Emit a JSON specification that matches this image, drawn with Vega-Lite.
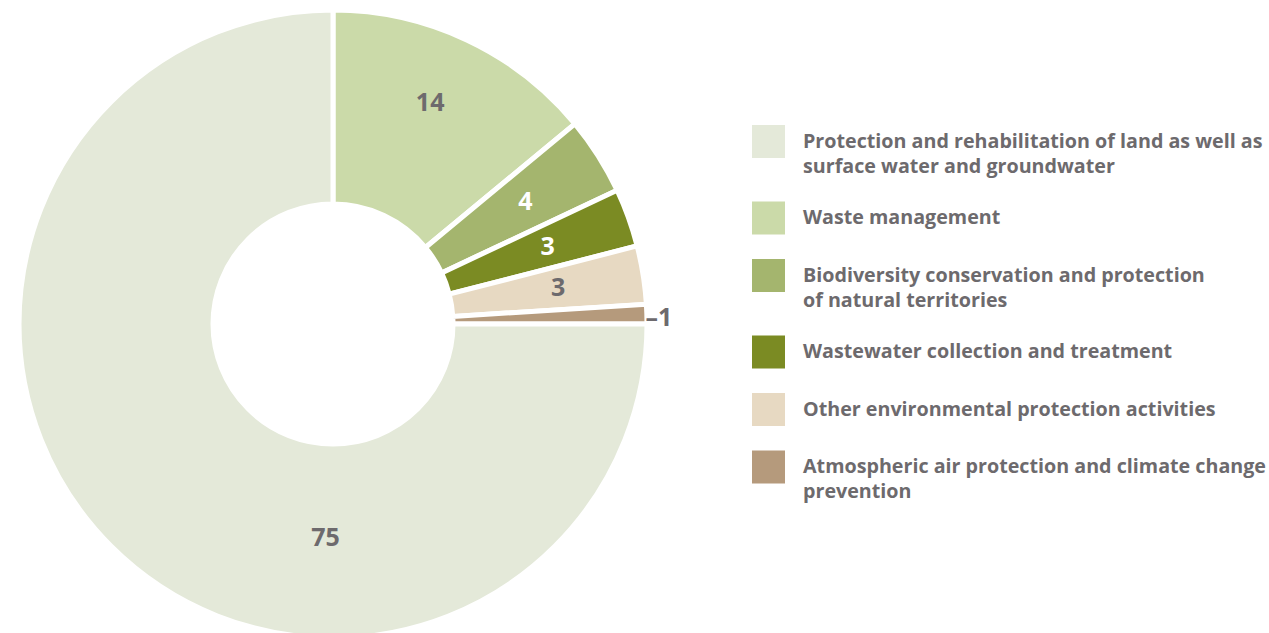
{
  "$schema": "https://vega.github.io/schema/vega-lite/v6.json",
  "width": 624,
  "height": 620,
  "padding": {"left": 9, "top": 0, "right": 0, "bottom": 0},
  "background": "white",
  "config": {"view": {"stroke": null}, "font": "Open Sans", "style": {"guide-label": {"lineHeight": 25}}},
  "data": {
    "values": [
      {"category": "Waste management", "value": 14, "rank": 1, "label": "14"},
      {"category": "Biodiversity conservation and protection of natural territories", "value": 4, "rank": 2, "label": "4"},
      {"category": "Wastewater collection and treatment", "value": 3, "rank": 3, "label": "3"},
      {"category": "Other environmental protection activities", "value": 3, "rank": 4, "label": "3"},
      {"category": "Atmospheric air protection and climate change prevention", "value": 1, "rank": 5, "label": "–1"},
      {"category": "Protection and rehabilitation of land as well as surface water and groundwater", "value": 75, "rank": 6, "label": "75"}
    ]
  },
  "transform": [
    {"stack": "value", "groupby": [], "sort": [{"field": "rank", "order": "ascending"}], "as": ["v0", "v1"]},
    {"calculate": "(datum.v0 + datum.v1) / 2", "as": "mid"}
  ],
  "layer": [
    {
      "mark": {"type": "arc", "outerRadius": 314, "innerRadius": 120, "stroke": "white", "strokeWidth": 5},
      "encoding": {
        "theta": {"field": "v0", "type": "quantitative", "scale": {"domain": [0, 100]}},
        "theta2": {"field": "v1"},
        "color": {
          "field": "category",
          "type": "nominal",
          "scale": {
            "domain": [
              "Protection and rehabilitation of land as well as surface water and groundwater",
              "Waste management",
              "Biodiversity conservation and protection of natural territories",
              "Wastewater collection and treatment",
              "Other environmental protection activities",
              "Atmospheric air protection and climate change prevention"
            ],
            "range": ["#e4e9d9", "#cbdaa9", "#a4b56e", "#7b8b23", "#e7d9c2", "#b59a7c"]
          },
          "legend": {
            "title": null,
            "orient": "none",
            "legendX": 731,
            "legendY": 111,
            "direction": "vertical",
            "columns": 1,
            "symbolType": "square",
            "symbolSize": 1089,
            "symbolStrokeWidth": 0,
            "symbolOpacity": 1,
            "labelFont": "Open Sans",
            "labelFontWeight": "bold",
            "labelFontSize": 19.7,
            "labelColor": "#6d6a6d",
            "labelLimit": 600,
            "labelOffset": 18,
            "rowPadding": 24.5,
            "labelExpr": "datum.label == 'Protection and rehabilitation of land as well as surface water and groundwater' ? ['Protection and rehabilitation of land as well as', 'surface water and groundwater'] : datum.label == 'Biodiversity conservation and protection of natural territories' ? ['Biodiversity conservation and protection', 'of natural territories'] : datum.label == 'Atmospheric air protection and climate change prevention' ? ['Atmospheric air protection and climate change', 'prevention'] : datum.label"
          }
        }
      }
    },
    {
      "transform": [{"filter": "datum.rank == 1"}],
      "mark": {"type": "text", "radius": 241, "thetaOffset": -0.025, "font": "Open Sans", "fontWeight": "bold", "fontSize": 25, "color": "#6d6a6d"},
      "encoding": {
        "theta": {"field": "mid", "type": "quantitative", "scale": {"domain": [0, 100]}},
        "text": {"field": "label"}
      }
    },
    {
      "transform": [{"filter": "datum.rank >= 2 && datum.rank <= 4"}],
      "mark": {"type": "text", "radius": 228, "font": "Open Sans", "fontWeight": "bold", "fontSize": 25},
      "encoding": {
        "theta": {"field": "mid", "type": "quantitative", "scale": {"domain": [0, 100]}},
        "text": {"field": "label"},
        "color": {"condition": {"test": "datum.rank == 2 || datum.rank == 3", "value": "white"}, "value": "#6d6a6d"}
      }
    },
    {
      "transform": [{"filter": "datum.rank == 5"}],
      "mark": {"type": "text", "radius": 326, "thetaOffset": 0.012, "font": "Open Sans", "fontWeight": "bold", "fontSize": 25, "color": "#6d6a6d"},
      "encoding": {
        "theta": {"field": "mid", "type": "quantitative", "scale": {"domain": [0, 100]}},
        "text": {"field": "label"}
      }
    },
    {
      "transform": [{"filter": "datum.rank == 6"}],
      "mark": {"type": "text", "radius": 214, "thetaOffset": -0.75, "font": "Open Sans", "fontWeight": "bold", "fontSize": 25, "color": "#6d6a6d"},
      "encoding": {
        "theta": {"field": "mid", "type": "quantitative", "scale": {"domain": [0, 100]}},
        "text": {"field": "label"}
      }
    }
  ]
}
